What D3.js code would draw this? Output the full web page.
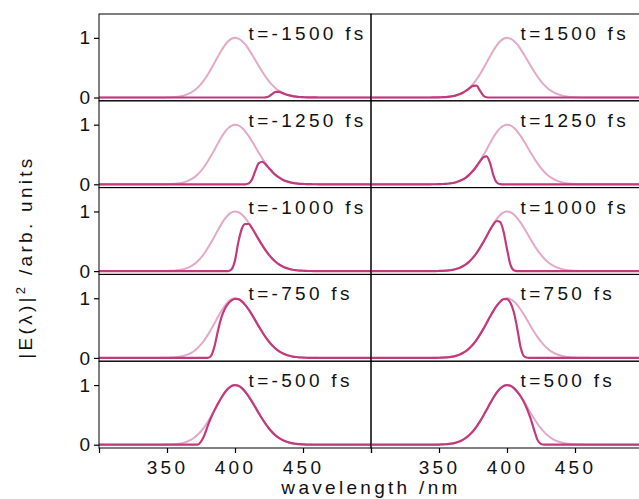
<!DOCTYPE html>
<html>
<head>
<meta charset="utf-8">
<script src="https://cdn.jsdelivr.net/npm/d3@7"></script>
<style>
  body { margin: 0; background: #fff; }
  svg text { font-family: "Liberation Sans", Arial, sans-serif; fill: #111; }
</style>
</head>
<body>
<div id="chart"></div>
<script>
// Wavelength grid (nm) shared by every spectrum
const wavelengths = [300,
  340, 342.5, 345, 347.5, 350, 352.5, 355, 357.5, 360, 362.5,
  365, 367.5, 370, 372.5, 375, 377.5, 380, 382.5, 385, 387.5,
  390, 392.5, 395, 397.5, 400, 402.5, 405, 407.5, 410, 412.5,
  415, 417.5, 420, 422.5, 425, 427.5, 430, 432.5, 435, 437.5,
  440, 442.5, 445, 447.5, 450, 452.5, 455, 457.5, 460, 462.5,
  465, 500];

// Full input spectrum (light curve, same in every panel)
const reference = [0,
  0, 0, 0.001, 0.001, 0.003, 0.005, 0.008, 0.014, 0.022, 0.035,
  0.054, 0.081, 0.117, 0.166, 0.226, 0.299, 0.386, 0.482, 0.585, 0.689,
  0.788, 0.875, 0.942, 0.985, 1, 0.987, 0.949, 0.889, 0.812, 0.722,
  0.626, 0.528, 0.435, 0.348, 0.272, 0.207, 0.153, 0.111, 0.078, 0.054,
  0.036, 0.023, 0.015, 0.009, 0.006, 0.003, 0.002, 0.001, 0.001, 0,
  0, 0];

// Gated spectra, left column (negative delays)
const leftTimes = [-1500, -1250, -1000, -750, -500];
const spectrumM1500 = [0,
  0, 0, 0, 0, 0, 0, 0, 0, 0, 0,
  0, 0, 0, 0, 0, 0, 0, 0, 0, 0,
  0, 0, 0, 0, 0, 0, 0, 0, 0, 0,
  0, 0, 0, 0.003, 0.019, 0.062, 0.095, 0.093, 0.074, 0.052,
  0.035, 0.023, 0.015, 0.009, 0.006, 0.003, 0.002, 0.001, 0.001, 0,
  0, 0];
const spectrumM1250 = [0,
  0, 0, 0, 0, 0, 0, 0, 0, 0, 0,
  0, 0, 0, 0, 0, 0, 0, 0, 0, 0,
  0, 0, 0, 0, 0, 0, 0, 0, 0.012, 0.08,
  0.23, 0.354, 0.378, 0.334, 0.27, 0.207, 0.153, 0.111, 0.078, 0.054,
  0.036, 0.023, 0.015, 0.009, 0.006, 0.003, 0.002, 0.001, 0.001, 0,
  0, 0];
const spectrumM1000 = [0,
  0, 0, 0, 0, 0, 0, 0, 0, 0, 0,
  0, 0, 0, 0, 0, 0, 0, 0, 0, 0,
  0, 0, 0, 0.03, 0.18, 0.49, 0.71, 0.79, 0.79, 0.72,
  0.626, 0.528, 0.435, 0.348, 0.272, 0.207, 0.153, 0.111, 0.078, 0.054,
  0.036, 0.023, 0.015, 0.009, 0.006, 0.003, 0.002, 0.001, 0.001, 0,
  0, 0];
const spectrumM750 = [0,
  0, 0, 0, 0, 0, 0, 0, 0, 0, 0,
  0, 0, 0, 0, 0, 0, 0, 0.04, 0.2, 0.46,
  0.68, 0.82, 0.91, 0.965, 0.99, 0.987, 0.949, 0.889, 0.812, 0.722,
  0.626, 0.528, 0.435, 0.348, 0.272, 0.207, 0.153, 0.111, 0.078, 0.054,
  0.036, 0.023, 0.015, 0.009, 0.006, 0.003, 0.002, 0.001, 0.001, 0,
  0, 0];
const spectrumM500 = [0,
  0, 0, 0, 0, 0, 0, 0, 0, 0, 0,
  0, 0, 0, 0, 0.05, 0.16, 0.32, 0.46, 0.58, 0.689,
  0.788, 0.875, 0.942, 0.985, 1, 0.987, 0.949, 0.889, 0.812, 0.722,
  0.626, 0.528, 0.435, 0.348, 0.272, 0.207, 0.153, 0.111, 0.078, 0.054,
  0.036, 0.023, 0.015, 0.009, 0.006, 0.003, 0.002, 0.001, 0.001, 0,
  0, 0];

// Gated spectra, right column (positive delays)
const rightTimes = [1500, 1250, 1000, 750, 500];
const spectrumP1500 = [0,
  0, 0, 0.001, 0.001, 0.003, 0.005, 0.008, 0.014, 0.022, 0.035,
  0.054, 0.081, 0.115, 0.158, 0.195, 0.2, 0.12, 0.035, 0.005, 0,
  0, 0, 0, 0, 0, 0, 0, 0, 0, 0,
  0, 0, 0, 0, 0, 0, 0, 0, 0, 0,
  0, 0, 0, 0, 0, 0, 0, 0, 0, 0,
  0, 0];
const spectrumP1250 = [0,
  0, 0, 0.001, 0.001, 0.003, 0.005, 0.008, 0.014, 0.022, 0.035,
  0.054, 0.081, 0.117, 0.166, 0.226, 0.299, 0.38, 0.45, 0.47, 0.36,
  0.15, 0.03, 0.003, 0, 0, 0, 0, 0, 0, 0,
  0, 0, 0, 0, 0, 0, 0, 0, 0, 0,
  0, 0, 0, 0, 0, 0, 0, 0, 0, 0,
  0, 0];
const spectrumP1000 = [0,
  0, 0, 0.001, 0.001, 0.003, 0.005, 0.008, 0.014, 0.022, 0.035,
  0.054, 0.081, 0.117, 0.166, 0.226, 0.299, 0.386, 0.482, 0.585, 0.689,
  0.784, 0.84, 0.82, 0.66, 0.37, 0.109, 0.015, 0, 0, 0,
  0, 0, 0, 0, 0, 0, 0, 0, 0, 0,
  0, 0, 0, 0, 0, 0, 0, 0, 0, 0,
  0, 0];
const spectrumP750 = [0,
  0, 0, 0.001, 0.001, 0.003, 0.005, 0.008, 0.014, 0.022, 0.035,
  0.054, 0.081, 0.117, 0.166, 0.226, 0.299, 0.386, 0.482, 0.585, 0.689,
  0.788, 0.875, 0.942, 0.985, 0.985, 0.923, 0.769, 0.498, 0.179, 0.029,
  0.003, 0, 0, 0, 0, 0, 0, 0, 0, 0,
  0, 0, 0, 0, 0, 0, 0, 0, 0, 0,
  0, 0];
const spectrumP500 = [0,
  0, 0, 0.001, 0.001, 0.003, 0.005, 0.008, 0.014, 0.022, 0.035,
  0.054, 0.081, 0.117, 0.166, 0.226, 0.299, 0.386, 0.482, 0.585, 0.689,
  0.788, 0.875, 0.942, 0.985, 1, 0.987, 0.949, 0.889, 0.812, 0.711,
  0.585, 0.428, 0.244, 0.077, 0.011, 0, 0, 0, 0, 0,
  0, 0, 0, 0, 0, 0, 0, 0, 0, 0,
  0, 0];

const leftSpectra = [spectrumM1500, spectrumM1250, spectrumM1000, spectrumM750, spectrumM500];
const rightSpectra = [spectrumP1500, spectrumP1250, spectrumP1000, spectrumP750, spectrumP500];

// Axis ticks
const xTicks = [300, 350, 400, 450, 500];
const xTickLabels = ["", "350", "400", "450", ""];
const yTicks = [0, 1];

// Layout
const width = 639, height = 499;
const plotLeft = 99, plotTop = 14;
const panelW = 272, rowH = 86.8;
const lightColor = "#e3a9c8";
const darkColor = "#c23a7c";
const spacing = "3.3px";

const svg = d3.select("#chart")
    .append("svg")
    .attr("width", width)
    .attr("height", height);

const xScale = d3.scaleLinear().domain([300, 500]).range([0, panelW]);
const yScale = d3.scaleLinear().domain([-0.055, 1.4]).range([rowH, 0]);

const line = d3.line()
    .x((d, i) => xScale(wavelengths[i]))
    .y(d => yScale(d))
    .curve(d3.curveMonotoneX);

svg.append("clipPath")
    .attr("id", "panel-clip")
    .append("rect")
    .attr("width", panelW)
    .attr("height", rowH);

function drawPanel(col, row, t, spectrum) {
    const g = svg.append("g")
        .attr("transform", `translate(${plotLeft + col * panelW},${plotTop + row * rowH})`);

    const curves = g.append("g").attr("clip-path", "url(#panel-clip)");

    curves.append("path")
        .datum(reference)
        .attr("fill", "none")
        .attr("stroke", lightColor)
        .attr("stroke-width", 2)
        .attr("d", line);

    curves.append("path")
        .datum(spectrum)
        .attr("fill", "none")
        .attr("stroke", darkColor)
        .attr("stroke-width", 2.2)
        .attr("d", line);

    g.append("rect")
        .attr("width", panelW)
        .attr("height", rowH)
        .attr("fill", "none")
        .attr("stroke", "#000")
        .attr("stroke-width", 1);

    g.append("text")
        .attr("x", xScale(410))
        .attr("y", 26)
        .style("font-size", "19px")
        .style("letter-spacing", spacing)
        .text(`t=${t} fs`);

    if (col === 0) {
        const yAxis = g.append("g")
            .call(d3.axisLeft(yScale).tickValues(yTicks).tickSize(5).tickPadding(4).tickFormat(d3.format("d")));
        yAxis.select(".domain").remove();
        yAxis.selectAll("line").attr("stroke", "#000").attr("stroke-width", 1.2);
        yAxis.selectAll("text").style("font-size", "19px").attr("fill", "#111");
    }

    if (row === 4) {
        const xAxis = g.append("g")
            .attr("transform", `translate(0,${rowH})`)
            .call(d3.axisBottom(xScale).tickValues(xTicks).tickSize(5).tickPadding(8)
                .tickFormat((d, i) => xTickLabels[i]));
        xAxis.select(".domain").remove();
        xAxis.selectAll("line").attr("stroke", "#000").attr("stroke-width", 1.2);
        xAxis.selectAll("text")
            .style("font-size", "19px")
            .style("letter-spacing", spacing)
            .attr("fill", "#111");
    }
}

leftTimes.forEach((t, i) => drawPanel(0, i, t, leftSpectra[i]));
rightTimes.forEach((t, i) => drawPanel(1, i, t, rightSpectra[i]));

// Axis titles
svg.append("text")
    .attr("x", plotLeft + panelW)
    .attr("y", 494)
    .attr("text-anchor", "middle")
    .style("font-size", "19px")
    .style("letter-spacing", spacing)
    .text("wavelength /nm");

const yLabel = svg.append("text")
    .attr("transform", "translate(32,257) rotate(-90)")
    .attr("text-anchor", "middle")
    .style("font-size", "19px")
    .style("letter-spacing", spacing);
yLabel.append("tspan").text("|E(λ)|");
yLabel.append("tspan").attr("dy", -7).style("font-size", "13px").text("2");
yLabel.append("tspan").attr("dy", 7).text(" /arb.  units");
</script>
</body>
</html>
